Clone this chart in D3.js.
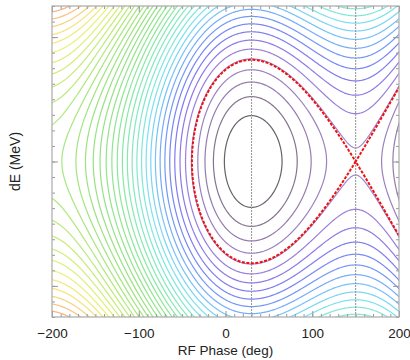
<!DOCTYPE html>
<html>
<head>
<meta charset="utf-8">
<script src="https://cdn.jsdelivr.net/npm/d3@7"></script>
<style>
  html, body { margin: 0; padding: 0; background: #fff; }
  svg { display: block; font-family: "Liberation Sans", Arial, Helvetica, sans-serif; }
</style>
</head>
<body>
<div id="chart"></div>
<script>
// ---- values ----
const phaseDomain = [-200, 200];          // RF phase, deg
const dEDomain = [-1.25, 1.25];           // dE, no tick labels in the plot
const phaseTicks = [-200, -100, 0, 100, 200];
const phaseMinorStep = 10;
const dEMajorTicks = [-1, 0, 1];
const dEMinorStep = 0.125;
const fixedPointPhases = [30, 150];       // stable / unstable fixed point
const syncPhase = 30;                     // deg
const bucketHalfHeight = 0.8175;          // dE of the separatrix at syncPhase
const levelStep = 0.2035;                 // contour spacing, in separatrix-energy units
const levelCount = 46;
const separatrixLevel = [1];

// colour of each contour level (rainbow, dark in the bucket centre)
const colorIdx = [0, 1, 2, 3, 4, 5, 6, 7, 8, 9, 10, 11, 12, 13, 14, 15, 17, 19, 21, 24, 27, 30, 33, 35, 37, 39, 41, 44];
const colorHex = ['#000000', '#4e4450', '#6e5a7a', '#83649e', '#8c6ab4', '#9070c6', '#8868d6', '#7a62e2',
  '#6a64ec', '#6070f2', '#5a86f6', '#5c9ef8', '#5eb6f8', '#62ccf2', '#66dcea', '#6ae2d4', '#6ee4b4',
  '#72e494', '#7ae07a', '#86dc6c', '#96e266', '#bce860', '#e4ee60', '#f6dc66', '#f6b868', '#f29068', '#ee7060', '#e85a5a'];

const W = 410, H = 360;
const margin = { top: 6, right: 11, bottom: 43, left: 52 };
const width = W - margin.left - margin.right;
const height = H - margin.top - margin.bottom;

const svg = d3.select('#chart').append('svg').attr('width', W).attr('height', H);

const x = d3.scaleLinear().domain(phaseDomain).range([0, width]);
const y = d3.scaleLinear().domain(dEDomain).range([height, 0]);
const levelColor = d3.scaleLinear().domain(colorIdx).range(colorHex).interpolate(d3.interpolateRgb).clamp(true);

// Hamiltonian of the RF bucket, normalised so the separatrix is 1
const rad = Math.PI / 180;
const phiS = syncPhase * rad;
const pot = p => -Math.cos(p) - p * Math.sin(phiS);
const vMin = pot(phiS), vSep = pot(Math.PI - phiS);
const ham = (phDeg, de) => (de / bucketHalfHeight) ** 2 + (pot(phDeg * rad) - vMin) / (vSep - vMin);

// grid a bit larger than the plot, clipped later so the borders don't show
const ph0 = -240.37, dph = 0.75, nx = 642;
const de0 = -1.5037, dde = 0.008, ny = 377;
const values = new Float64Array(nx * ny);
for (let j = 0; j < ny; j++) {
  for (let i = 0; i < nx; i++) {
    values[j * nx + i] = ham(ph0 + i * dph, de0 + j * dde);
  }
}

const proj = d3.geoTransform({
  point: function (gx, gy) {
    this.stream.point(x(ph0 + (gx - 0.5) * dph), y(de0 + (gy - 0.5) * dde));
  }
});
const path = d3.geoPath(proj);

svg.append('defs').append('clipPath').attr('id', 'plotclip')
  .append('rect').attr('width', width).attr('height', height);

const chart = svg.append('g').attr('transform', `translate(${margin.left},${margin.top})`);
const plot = chart.append('g').attr('clip-path', 'url(#plotclip)');

const levels = d3.range(1, levelCount + 1);
const contours = d3.contours().size([nx, ny]).thresholds(levels.map(n => n * levelStep))(values);

plot.selectAll('.level')
  .data(contours)
  .enter()
  .append('path')
  .attr('class', 'level')
  .attr('d', path)
  .attr('fill', 'none')
  .attr('stroke', (d, i) => levelColor(levels[i]))
  .attr('stroke-opacity', 0.85)
  .attr('stroke-width', 1.2);

// fixed point markers
plot.selectAll('.fp')
  .data(fixedPointPhases)
  .enter()
  .append('line')
  .attr('class', 'fp')
  .attr('x1', d => x(d)).attr('x2', d => x(d))
  .attr('y1', 0).attr('y2', height)
  .attr('stroke', '#9a9a9a')
  .attr('stroke-width', 1.1)
  .attr('stroke-dasharray', '2,1');

// separatrix
const sep = d3.contours().size([nx, ny]).thresholds(separatrixLevel)(values);
plot.selectAll('.sep')
  .data(sep)
  .enter()
  .append('path')
  .attr('class', 'sep')
  .attr('d', path)
  .attr('fill', 'none')
  .attr('stroke', '#ee1111')
  .attr('stroke-width', 2)
  .attr('stroke-dasharray', '3,1.5');

// ticks, pointing inwards on all four sides
const minorX = d3.range(phaseDomain[0], phaseDomain[1] + 0.1, phaseMinorStep);
const minorY = d3.range(dEDomain[0], dEDomain[1] + 1e-6, dEMinorStep);
const noText = () => '';

const tickStyle = g => {
  g.select('.domain').remove();
  g.selectAll('.tick line').attr('stroke', '#999');
};

chart.append('g').attr('transform', `translate(0,${height})`)
  .call(d3.axisBottom(x).tickValues(minorX).tickSize(-3).tickFormat(noText)).call(tickStyle);
chart.append('g')
  .call(d3.axisTop(x).tickValues(minorX).tickSize(-3).tickFormat(noText)).call(tickStyle);
chart.append('g')
  .call(d3.axisTop(x).tickValues(phaseTicks).tickSize(-6).tickFormat(noText)).call(tickStyle);
chart.append('g')
  .call(d3.axisLeft(y).tickValues(minorY).tickSize(-3).tickFormat(noText)).call(tickStyle);
chart.append('g')
  .call(d3.axisLeft(y).tickValues(dEMajorTicks).tickSize(-6).tickFormat(noText)).call(tickStyle);
chart.append('g').attr('transform', `translate(${width},0)`)
  .call(d3.axisRight(y).tickValues(minorY).tickSize(-3).tickFormat(noText)).call(tickStyle);
chart.append('g').attr('transform', `translate(${width},0)`)
  .call(d3.axisRight(y).tickValues(dEMajorTicks).tickSize(-6).tickFormat(noText)).call(tickStyle);

const xAxis = chart.append('g').attr('transform', `translate(0,${height})`)
  .call(d3.axisBottom(x).tickValues(phaseTicks).tickSize(-6).tickPadding(11).tickFormat(d3.format('d')))
  .call(tickStyle);
xAxis.selectAll('text').attr('font-size', 13.5).attr('fill', '#222')
  .attr('font-family', '"Liberation Sans", Arial, sans-serif');

// frame
chart.append('rect')
  .attr('width', width).attr('height', height)
  .attr('fill', 'none').attr('stroke', '#aaa').attr('stroke-width', 1.2);

// axis titles
svg.append('text')
  .attr('x', margin.left + width / 2).attr('y', 355)
  .attr('text-anchor', 'middle').attr('font-size', 13.5).attr('fill', '#222')
  .text('RF Phase (deg)');

svg.append('text')
  .attr('transform', `translate(20,${margin.top + height / 2}) rotate(-90)`)
  .attr('text-anchor', 'middle').attr('font-size', 14).attr('fill', '#222')
  .text('dE (MeV)');
</script>
</body>
</html>
